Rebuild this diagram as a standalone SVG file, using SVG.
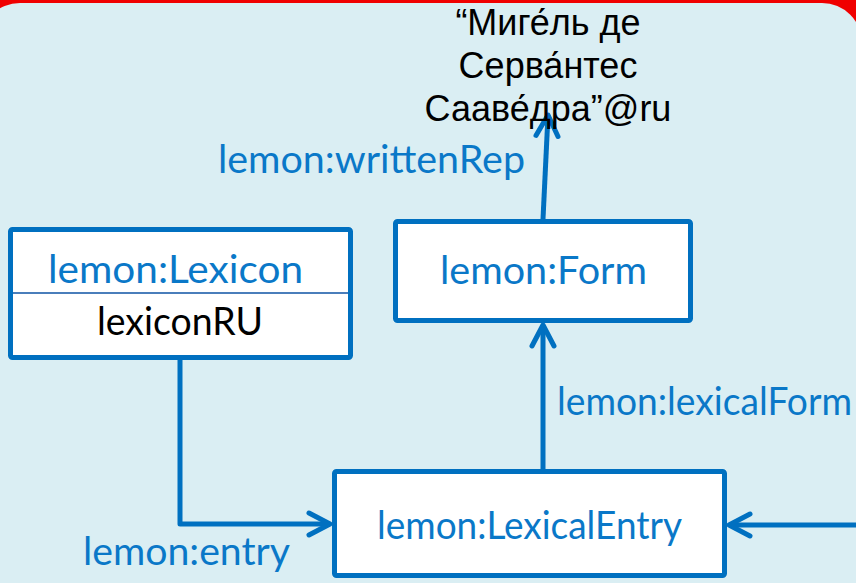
<svg xmlns="http://www.w3.org/2000/svg" width="856" height="583" viewBox="0 0 856 583">
  <style>
    .box { fill: #FFFFFF; stroke: #0070C0; stroke-width: 5; stroke-linejoin: round; }
    .conn { fill: none; stroke: #0070C0; stroke-width: 5; stroke-linejoin: round; stroke-linecap: butt; }
    .lbl { font-family: Lato, "Open Sans", "Liberation Sans", sans-serif; font-size: 38px; fill: #0A78C8; }
    .blk { font-family: Lato, "Open Sans", "Liberation Sans", sans-serif; font-size: 38px; fill: #000000; }
    .lit { font-family: "Liberation Sans", Arial, sans-serif; font-size: 36px; fill: #000000; }
  </style>
  <defs>
    <marker id="arr" markerUnits="userSpaceOnUse" orient="auto" refX="0" refY="0" markerWidth="40" markerHeight="40" overflow="visible">
      <path d="M-21,-11 L0,0 L-21,11" fill="none" stroke="#0070C0" stroke-width="5" stroke-linecap="round" stroke-linejoin="round"/>
    </marker>
  </defs>

  <!-- background -->
  <rect x="0" y="0" width="856" height="583" fill="#F00000"/>
  <rect x="-20" y="3" width="882" height="640" rx="40" ry="40" fill="#DAEEF3"/>

  <!-- connectors -->
  <g id="connectors">
    <path class="conn" d="M180,360 L180,524 L330,524" marker-end="url(#arr)"/>
    <path class="conn" d="M858,525 L729,525" marker-end="url(#arr)"/>
    <path class="conn" d="M543,469 L543,325" marker-end="url(#arr)"/>
    <path class="conn" d="M543,219 L548,115" marker-end="url(#arr)"/>
    <text class="lbl" x="218" y="173" textLength="307" lengthAdjust="spacingAndGlyphs">lemon:writtenRep</text>
    <text class="lbl" x="557" y="415" textLength="295" lengthAdjust="spacingAndGlyphs">lemon:lexicalForm</text>
    <text class="lbl" x="83" y="565" textLength="207" lengthAdjust="spacingAndGlyphs">lemon:entry</text>
  </g>

  <!-- literal -->
  <g id="literal">
    <text class="lit" x="548" y="35" text-anchor="middle">“Миге́ль де</text>
    <text class="lit" x="548" y="78" text-anchor="middle">Серва́нтес</text>
    <text class="lit" x="548" y="121" text-anchor="middle">Сааве́дра”@ru</text>
  </g>

  <!-- Lexicon node -->
  <g id="lexicon">
    <rect class="box" x="10.5" y="229.5" width="340" height="128" rx="2"/>
    <line x1="13" y1="293" x2="348" y2="293" stroke="#4A7EBB" stroke-width="2"/>
    <text class="lbl" x="175.5" y="283" text-anchor="middle" textLength="255" lengthAdjust="spacingAndGlyphs">lemon:Lexicon</text>
    <text class="blk" x="180" y="335" text-anchor="middle" textLength="166" lengthAdjust="spacingAndGlyphs">lexiconRU</text>
  </g>

  <!-- Form node -->
  <g id="form">
    <rect class="box" x="395.5" y="221.5" width="295" height="99" rx="2"/>
    <text class="lbl" x="543.5" y="284" text-anchor="middle" textLength="207" lengthAdjust="spacingAndGlyphs">lemon:Form</text>
  </g>

  <!-- LexicalEntry node -->
  <g id="lexicalEntry">
    <rect class="box" x="334.5" y="471.5" width="390" height="104" rx="2"/>
    <text class="lbl" x="529.5" y="539" text-anchor="middle" textLength="305" lengthAdjust="spacingAndGlyphs">lemon:LexicalEntry</text>
  </g>
</svg>
